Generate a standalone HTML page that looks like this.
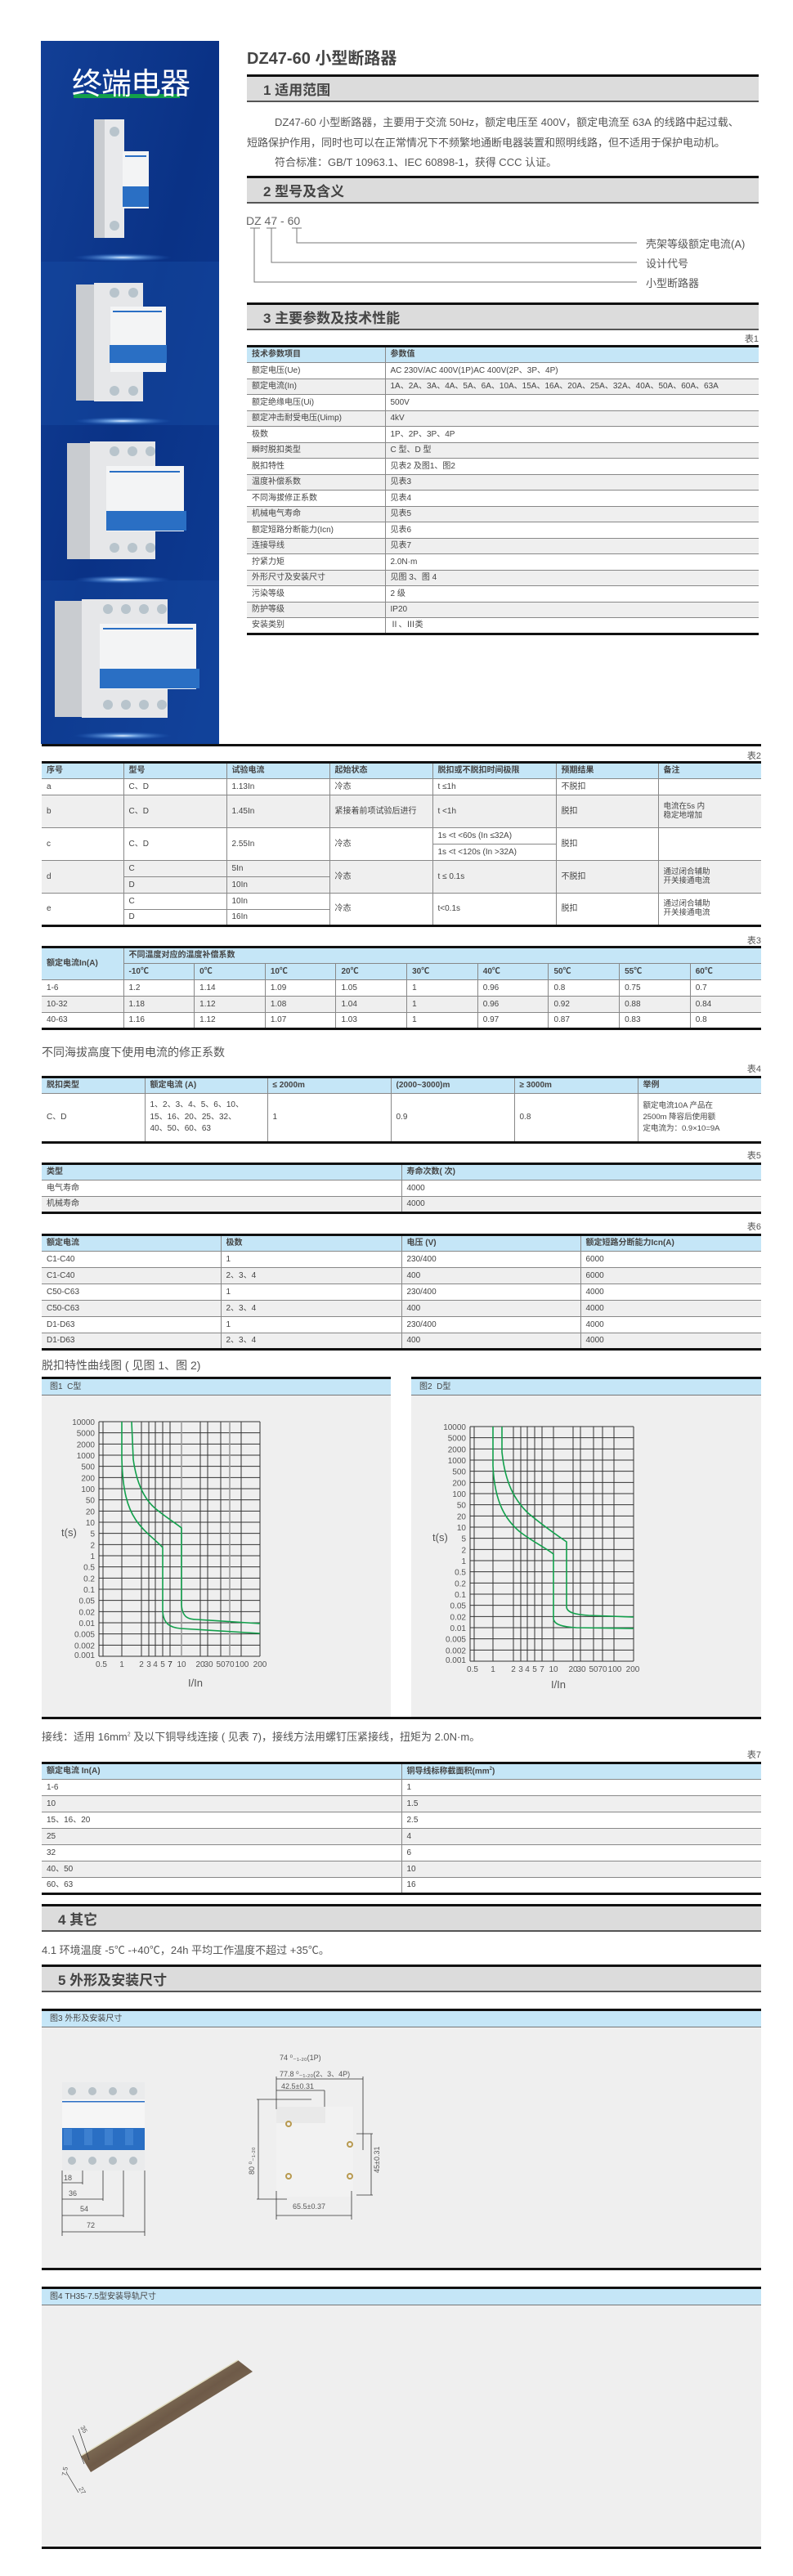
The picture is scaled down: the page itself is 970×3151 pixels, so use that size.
<!DOCTYPE html>
<html><head><meta charset="utf-8">
<style>
*{margin:0;padding:0;box-sizing:border-box}
body{width:970px;height:3151px;position:relative;background:#fff;font-family:"Liberation Sans","Noto Sans CJK SC",sans-serif;color:#555;overflow:hidden}
.a{position:absolute;white-space:nowrap}
.sec{position:absolute;height:34px;background:#dcdcdc;border-top:3px solid #111;border-bottom:2px solid #555;font-weight:bold;font-size:17px;color:#444;padding-left:20px;display:flex;align-items:center}
.tn{position:absolute;right:39px;font-size:11px;color:#555}
table{position:absolute;border-collapse:collapse;table-layout:fixed;font-size:10px;color:#444;border-top:3px solid #111;border-bottom:3px solid #111}
td,th{border-bottom:1px solid #888;border-left:1px solid #888;padding-left:6px;text-align:left;vertical-align:middle;overflow:hidden;white-space:nowrap;line-height:1.15}
td:first-child,th:first-child{border-left:none}
th{background:#c5e6f7;font-weight:bold;color:#444}
tr.g td{background:#efefef}
.box{position:absolute;background:#efefef;border-top:3px solid #111}
.bh{height:20px;background:#c5e6f7;border-bottom:1px solid #777;font-size:10px;padding-left:10px;line-height:20px;color:#444}
p.t{position:absolute;font-size:13px;color:#555;white-space:nowrap}
</style></head><body>

<!-- left panel -->
<svg class="a" style="left:50px;top:50px" width="218" height="860" viewBox="0 0 218 860">
<defs>
<linearGradient id="bg" x1="0" y1="0" x2="1" y2="1"><stop offset="0" stop-color="#123f96"/><stop offset="0.5" stop-color="#0a3286"/><stop offset="1" stop-color="#0e3c94"/></linearGradient>
<radialGradient id="gl"><stop offset="0" stop-color="#e8f4ff"/><stop offset="0.3" stop-color="#7fb4f0" stop-opacity="0.8"/><stop offset="1" stop-color="#2060c0" stop-opacity="0"/></radialGradient>
</defs>
<rect width="218" height="860" fill="url(#bg)"/>
<rect x="0" y="270" width="218" height="200" fill="#1a54ad" opacity="0.35"/>
<rect x="0" y="660" width="218" height="200" fill="#1a54ad" opacity="0.3"/>
<ellipse cx="100" cy="265" rx="60" ry="5" fill="url(#gl)"/>
<ellipse cx="100" cy="465" rx="60" ry="5" fill="url(#gl)"/>
<ellipse cx="100" cy="659" rx="60" ry="5" fill="url(#gl)"/>
<ellipse cx="100" cy="850" rx="60" ry="5" fill="url(#gl)"/>
<rect x="40" y="65" width="130" height="5" fill="#13a04a"/>
<g><rect x="65" y="96" width="18" height="145" fill="#c9ccd0"/><rect x="78" y="96" width="24" height="145" fill="#e8e9eb"/><rect x="100" y="135" width="32" height="70" fill="#f3f4f5"/><rect x="100" y="178" width="32" height="25" fill="#2a6fc4"/><circle cx="90" cy="111" r="6" fill="#b8c4cc"/><circle cx="90" cy="226" r="6" fill="#b8c4cc"/><rect x="103" y="140" width="26" height="2" fill="#2a6fc4"/></g>
<g><rect x="43" y="298" width="28" height="142" fill="#c9ccd0"/><rect x="65" y="296" width="60" height="145" fill="#e6e7e9"/><rect x="85" y="325" width="68" height="80" fill="#f3f4f5"/><rect x="84" y="372" width="70" height="22" fill="#2a6fc4"/><rect x="88" y="330" width="60" height="2" fill="#2a6fc4"/><circle cx="90" cy="308" r="6" fill="#b8c4cc"/><circle cx="113" cy="308" r="6" fill="#b8c4cc"/><circle cx="90" cy="428" r="6" fill="#b8c4cc"/><circle cx="113" cy="428" r="6" fill="#b8c4cc"/></g>
<g><rect x="32" y="492" width="36" height="142" fill="#c9ccd0"/><rect x="60" y="490" width="80" height="144" fill="#e6e7e9"/><rect x="80" y="520" width="95" height="80" fill="#f3f4f5"/><rect x="80" y="575" width="98" height="24" fill="#2a6fc4"/><rect x="84" y="526" width="86" height="2" fill="#2a6fc4"/><circle cx="90" cy="502" r="6" fill="#b8c4cc"/><circle cx="112" cy="502" r="6" fill="#b8c4cc"/><circle cx="134" cy="502" r="6" fill="#b8c4cc"/><circle cx="90" cy="620" r="6" fill="#b8c4cc"/><circle cx="112" cy="620" r="6" fill="#b8c4cc"/><circle cx="134" cy="620" r="6" fill="#b8c4cc"/></g>
<g><rect x="17" y="685" width="40" height="142" fill="#c9ccd0"/><rect x="50" y="683" width="105" height="145" fill="#e6e7e9"/><rect x="72" y="713" width="118" height="80" fill="#f3f4f5"/><rect x="72" y="768" width="122" height="24" fill="#2a6fc4"/><rect x="76" y="718" width="110" height="2" fill="#2a6fc4"/><circle cx="82" cy="695" r="6" fill="#b8c4cc"/><circle cx="104" cy="695" r="6" fill="#b8c4cc"/><circle cx="126" cy="695" r="6" fill="#b8c4cc"/><circle cx="148" cy="695" r="6" fill="#b8c4cc"/><circle cx="82" cy="812" r="6" fill="#b8c4cc"/><circle cx="104" cy="812" r="6" fill="#b8c4cc"/><circle cx="126" cy="812" r="6" fill="#b8c4cc"/><circle cx="148" cy="812" r="6" fill="#b8c4cc"/></g>
</svg>
<div class="a" style="left:88px;top:72px;font-size:37px;color:#fff;letter-spacing:-1px">终端电器</div>

<div class="a" style="left:302px;top:55px;font-size:20px;font-weight:bold;color:#444">DZ47-60 小型断路器</div>

<div class="sec" style="left:302px;top:91px;width:626px">1 适用范围</div>
<p class="t" style="left:336px;top:139px">DZ47-60 小型断路器，主要用于交流 50Hz，额定电压至 400V，额定电流至 63A 的线路中起过载、</p>
<p class="t" style="left:302px;top:164px">短路保护作用，同时也可以在正常情况下不频繁地通断电器装置和照明线路，但不适用于保护电动机。</p>
<p class="t" style="left:336px;top:188px">符合标准：GB/T 10963.1、IEC 60898-1，获得 CCC 认证。</p>
<div class="sec" style="left:302px;top:215px;width:626px">2 型号及含义</div>

<div class="a" style="left:301px;top:262px;font-size:14px;color:#666">DZ 47 - 60</div>
<svg class="a" style="left:300px;top:276px" width="500" height="75">
<g stroke="#777" stroke-width="1" fill="none">
<path d="M6,3H18M26,3H38M57,3H69"/>
<path d="M11,3V69H479M32,3V45H479M63,3V21H479"/>
</g></svg>
<div class="a" style="left:790px;top:288px;font-size:13px;color:#555">壳架等级额定电流(A)</div>
<div class="a" style="left:790px;top:312px;font-size:13px;color:#555">设计代号</div>
<div class="a" style="left:790px;top:336px;font-size:13px;color:#555">小型断路器</div>

<div class="sec" style="left:302px;top:370px;width:626px">3 主要参数及技术性能</div>
<div class="tn" style="top:406px;right:42px">表1</div>
<table style="left:302px;top:422px;width:626px">
<colgroup><col style="width:169px"><col></colgroup>
<tr style="height:20px"><th>技术参数项目</th><th>参数值</th></tr>
<tr style="height:19.5px"><td>额定电压(Ue)</td><td>AC 230V/AC 400V(1P)AC 400V(2P、3P、4P)</td></tr>
<tr class="g" style="height:19.5px"><td>额定电流(In)</td><td>1A、2A、3A、4A、5A、6A、10A、15A、16A、20A、25A、32A、40A、50A、60A、63A</td></tr>
<tr style="height:19.5px"><td>额定绝缘电压(Ui)</td><td>500V</td></tr>
<tr class="g" style="height:19.5px"><td>额定冲击耐受电压(Uimp)</td><td>4kV</td></tr>
<tr style="height:19.5px"><td>极数</td><td>1P、2P、3P、4P</td></tr>
<tr class="g" style="height:19.5px"><td>瞬时脱扣类型</td><td>C 型、D 型</td></tr>
<tr style="height:19.5px"><td>脱扣特性</td><td>见表2 及图1、图2</td></tr>
<tr class="g" style="height:19.5px"><td>温度补偿系数</td><td>见表3</td></tr>
<tr style="height:19.5px"><td>不同海拔修正系数</td><td>见表4</td></tr>
<tr class="g" style="height:19.5px"><td>机械电气寿命</td><td>见表5</td></tr>
<tr style="height:19.5px"><td>额定短路分断能力(Icn)</td><td>见表6</td></tr>
<tr class="g" style="height:19.5px"><td>连接导线</td><td>见表7</td></tr>
<tr style="height:19.5px"><td>拧紧力矩</td><td>2.0N·m</td></tr>
<tr class="g" style="height:19.5px"><td>外形尺寸及安装尺寸</td><td>见图 3、图 4</td></tr>
<tr style="height:19.5px"><td>污染等级</td><td>2 级</td></tr>
<tr class="g" style="height:19.5px"><td>防护等级</td><td>IP20</td></tr>
<tr style="height:19.5px"><td>安装类别</td><td>Ⅱ、Ⅲ类</td></tr>
</table>

<div class="a" style="left:51px;top:910px;width:880px;height:3px;background:#111"></div>
<div class="tn" style="top:916px">表2</div>
<table style="left:51px;top:931px;width:880px">
<colgroup><col style="width:100px"><col style="width:126px"><col style="width:126px"><col style="width:126px"><col style="width:151px"><col style="width:125px"><col></colgroup>
<tr style="height:20px"><th>序号</th><th>型号</th><th>试验电流</th><th>起始状态</th><th>脱扣或不脱扣时间极限</th><th>预期结果</th><th>备注</th></tr>
<tr style="height:20px"><td>a</td><td>C、D</td><td>1.13In</td><td>冷态</td><td>t ≤1h</td><td>不脱扣</td><td></td></tr>
<tr class="g" style="height:40px"><td>b</td><td>C、D</td><td>1.45In</td><td>紧接着前项试验后进行</td><td>t &lt;1h</td><td>脱扣</td><td style="font-size:9.5px">电流在5s 内<br>稳定地增加</td></tr>
<tr style="height:20px"><td rowspan="2">c</td><td rowspan="2">C、D</td><td rowspan="2">2.55In</td><td rowspan="2">冷态</td><td>1s &lt;t &lt;60s (In ≤32A)</td><td rowspan="2">脱扣</td><td rowspan="2"></td></tr>
<tr style="height:20px"><td style="border-left:1px solid #888">1s &lt;t &lt;120s (In &gt;32A)</td></tr>
<tr class="g" style="height:20px"><td rowspan="2">d</td><td>C</td><td>5In</td><td rowspan="2">冷态</td><td rowspan="2">t ≤ 0.1s</td><td rowspan="2">不脱扣</td><td rowspan="2" style="font-size:9.5px">通过闭合辅助<br>开关接通电流</td></tr>
<tr class="g" style="height:20px"><td style="border-left:1px solid #888">D</td><td>10In</td></tr>
<tr style="height:20px"><td rowspan="2">e</td><td>C</td><td>10In</td><td rowspan="2">冷态</td><td rowspan="2">t&lt;0.1s</td><td rowspan="2">脱扣</td><td rowspan="2" style="font-size:9.5px">通过闭合辅助<br>开关接通电流</td></tr>
<tr style="height:20px"><td style="border-left:1px solid #888">D</td><td>16In</td></tr>
</table>

<div class="tn" style="top:1142px">表3</div>
<table style="left:51px;top:1157px;width:880px">
<colgroup><col style="width:100px"><col span="9"></colgroup>
<tr style="height:20px"><th rowspan="2">额定电流In(A)</th><th colspan="9" style="border-left:1px solid #888">不同温度对应的温度补偿系数</th></tr>
<tr style="height:20px"><th style="border-left:1px solid #888">-10℃</th><th>0℃</th><th>10℃</th><th>20℃</th><th>30℃</th><th>40℃</th><th>50℃</th><th>55℃</th><th>60℃</th></tr>
<tr style="height:20px"><td>1-6</td><td>1.2</td><td>1.14</td><td>1.09</td><td>1.05</td><td>1</td><td>0.96</td><td>0.8</td><td>0.75</td><td>0.7</td></tr>
<tr class="g" style="height:20px"><td>10-32</td><td>1.18</td><td>1.12</td><td>1.08</td><td>1.04</td><td>1</td><td>0.96</td><td>0.92</td><td>0.88</td><td>0.84</td></tr>
<tr style="height:20px"><td>40-63</td><td>1.16</td><td>1.12</td><td>1.07</td><td>1.03</td><td>1</td><td>0.97</td><td>0.87</td><td>0.83</td><td>0.8</td></tr>
</table>

<p class="t" style="left:51px;top:1277px;font-size:14px">不同海拔高度下使用电流的修正系数</p>
<div class="tn" style="top:1299px">表4</div>
<table style="left:51px;top:1316px;width:880px">
<colgroup><col style="width:126px"><col style="width:150px"><col style="width:151px"><col style="width:151px"><col style="width:151px"><col></colgroup>
<tr style="height:20px"><th>脱扣类型</th><th>额定电流 (A)</th><th>≤ 2000m</th><th>(2000~3000)m</th><th>≥ 3000m</th><th>举例</th></tr>
<tr style="height:60px"><td>C、D</td><td style="line-height:1.45">1、2、3、4、5、6、10、<br>15、16、20、25、32、<br>40、50、60、63</td><td>1</td><td>0.9</td><td>0.8</td><td style="font-size:9.5px;line-height:1.45">额定电流10A 产品在<br>2500m 降容后使用额<br>定电流为：0.9×10=9A</td></tr>
</table>

<div class="tn" style="top:1405px">表5</div>
<table style="left:51px;top:1422px;width:880px">
<colgroup><col style="width:440px"><col></colgroup>
<tr style="height:20px"><th>类型</th><th>寿命次数( 次)</th></tr>
<tr style="height:20px"><td>电气寿命</td><td>4000</td></tr>
<tr class="g" style="height:20px"><td>机械寿命</td><td>4000</td></tr>
</table>

<div class="tn" style="top:1492px">表6</div>
<table style="left:51px;top:1509px;width:880px">
<colgroup><col style="width:219px"><col style="width:221px"><col style="width:219px"><col></colgroup>
<tr style="height:20px"><th>额定电流</th><th>极数</th><th>电压 (V)</th><th>额定短路分断能力Icn(A)</th></tr>
<tr style="height:20px"><td>C1-C40</td><td>1</td><td>230/400</td><td>6000</td></tr>
<tr class="g" style="height:20px"><td>C1-C40</td><td>2、3、4</td><td>400</td><td>6000</td></tr>
<tr style="height:20px"><td>C50-C63</td><td>1</td><td>230/400</td><td>4000</td></tr>
<tr class="g" style="height:20px"><td>C50-C63</td><td>2、3、4</td><td>400</td><td>4000</td></tr>
<tr style="height:20px"><td>D1-D63</td><td>1</td><td>230/400</td><td>4000</td></tr>
<tr class="g" style="height:20px"><td>D1-D63</td><td>2、3、4</td><td>400</td><td>4000</td></tr>
</table>

<p class="t" style="left:51px;top:1660px;font-size:14px">脱扣特性曲线图 ( 见图 1、图 2)</p>
<div class="box" style="left:51px;top:1684px;width:427px;height:417px"><div class="bh">图1&nbsp; C型</div></div>
<div class="box" style="left:503px;top:1684px;width:428px;height:417px"><div class="bh">图2&nbsp; D型</div></div>
<div class="a" style="left:51px;top:2100px;width:880px;height:3px;background:#111"></div>

<svg class="a" style="left:61px;top:1729px" width="270" height="345" font-family="Liberation Sans, sans-serif" font-size="10" fill="#555">
<g transform="translate(60,10)">
<g stroke="#333" stroke-width="1">
<path d="M0,0H197M0,13.67H197M0,27.33H197M0,41H197M0,54.67H197M0,68.33H197M0,82H197M0,95.67H197M0,109.33H197M0,123H197M0,136.67H197M0,150.33H197M0,164H197M0,177.67H197M0,191.33H197M0,205H197M0,218.67H197M0,232.33H197M0,246H197M0,259.67H197M0,273.33H197M0,287H197"/>
<path d="M0,0V287M5,0V287M28,0V287M52,0V287M61,0V287M69,0V287M78,0V287M87,0V287M124,0V287M133,0V287M149,0V287M174,0V287M197,0V287"/>
</g>
<g stroke="#999" stroke-width="1.5"><path d="M101,0V287M160,0V287"/></g>
<g fill="none" stroke="#12a04c" stroke-width="1.6">
<path d="M28,0 L28,45 C29,85 35,105 45,120 C55,135 70,145 78,154 L78,232 C79,248 88,252 100,253 L197,259"/>
<path d="M40,0 L42,46 C46,75 55,95 70,107 C82,117 95,125 101,130 L101,224 C102,240 110,242 120,242 L197,247"/>
</g>
<g text-anchor="end">
<text x="-5" y="4">10000</text><text x="-5" y="17.7">5000</text><text x="-5" y="31.3">2000</text><text x="-5" y="45">1000</text><text x="-5" y="58.7">500</text><text x="-5" y="72.3">200</text><text x="-5" y="86">100</text><text x="-5" y="99.7">50</text><text x="-5" y="113.3">20</text><text x="-5" y="127">10</text><text x="-5" y="140.7">5</text><text x="-5" y="154.3">2</text><text x="-5" y="168">1</text><text x="-5" y="181.7">0.5</text><text x="-5" y="195.3">0.2</text><text x="-5" y="209">0.1</text><text x="-5" y="222.7">0.05</text><text x="-5" y="236.3">0.02</text><text x="-5" y="250">0.01</text><text x="-5" y="263.7">0.005</text><text x="-5" y="277.3">0.002</text><text x="-5" y="289">0.001</text>
</g>
<text x="-46" y="140" font-size="13">t(s)</text>
<g text-anchor="middle">
<text x="3" y="300">0.5</text><text x="28" y="300">1</text><text x="52" y="300">2</text><text x="61" y="300">3</text><text x="69" y="300">4</text><text x="78" y="300">5</text><text x="87" y="300" fill="#222">7</text><text x="101" y="300">10</text><text x="124" y="300">20</text><text x="134" y="300">30</text><text x="149" y="300">50</text><text x="160" y="300">70</text><text x="175" y="300">100</text><text x="197" y="300">200</text>
</g>
<text x="118" y="324" font-size="13" text-anchor="middle">I/In</text>
</g></svg>

<svg class="a" style="left:515px;top:1735px" width="275" height="345" font-family="Liberation Sans, sans-serif" font-size="10" fill="#555">
<g transform="translate(60,10)">
<g stroke="#333" stroke-width="1">
<path d="M0,0H200M0,13.67H200M0,27.33H200M0,41H200M0,54.67H200M0,68.33H200M0,82H200M0,95.67H200M0,109.33H200M0,123H200M0,136.67H200M0,150.33H200M0,164H200M0,177.67H200M0,191.33H200M0,205H200M0,218.67H200M0,232.33H200M0,246H200M0,259.67H200M0,273.33H200M0,287H200"/>
<path d="M0,0V287M5,0V287M28,0V287M53,0V287M62,0V287M70,0V287M79,0V287M88,0V287M102,0V287M126,0V287M135,0V287M151,0V287M162,0V287M176,0V287M200,0V287"/>
</g>
<g fill="none" stroke="#12a04c" stroke-width="1.6">
<path d="M28,0 L28,48 C30,95 45,115 60,128 C75,140 92,148 102,156 L102,235 C103,243 115,245 130,246 L200,247"/>
<path d="M39,0 L39,31 C43,70 55,90 70,105 C90,122 105,132 118,141 L118,221 C119,228 130,230 145,231 L200,233"/>
</g>
<g text-anchor="end">
<text x="-5" y="4">10000</text><text x="-5" y="17.7">5000</text><text x="-5" y="31.3">2000</text><text x="-5" y="45">1000</text><text x="-5" y="58.7">500</text><text x="-5" y="72.3">200</text><text x="-5" y="86">100</text><text x="-5" y="99.7">50</text><text x="-5" y="113.3">20</text><text x="-5" y="127">10</text><text x="-5" y="140.7">5</text><text x="-5" y="154.3">2</text><text x="-5" y="168">1</text><text x="-5" y="181.7">0.5</text><text x="-5" y="195.3">0.2</text><text x="-5" y="209">0.1</text><text x="-5" y="222.7">0.05</text><text x="-5" y="236.3">0.02</text><text x="-5" y="250">0.01</text><text x="-5" y="263.7">0.005</text><text x="-5" y="277.3">0.002</text><text x="-5" y="289">0.001</text>
</g>
<text x="-46" y="140" font-size="13">t(s)</text>
<g text-anchor="middle">
<text x="3" y="300">0.5</text><text x="28" y="300">1</text><text x="53" y="300">2</text><text x="62" y="300">3</text><text x="70" y="300">4</text><text x="79" y="300">5</text><text x="88" y="300">7</text><text x="102" y="300">10</text><text x="126" y="300">20</text><text x="136" y="300">30</text><text x="151" y="300">50</text><text x="162" y="300">70</text><text x="177" y="300">100</text><text x="199" y="300">200</text>
</g>
<text x="108" y="320" font-size="13" text-anchor="middle">I/In</text>
</g></svg>

<p class="t" style="left:51px;top:2114px">接线：适用 16mm<sup style="font-size:7px">2</sup> 及以下铜导线连接 ( 见表 7)，接线方法用螺钉压紧接线，扭矩为 2.0N·m。</p>
<div class="tn" style="top:2138px">表7</div>
<table style="left:51px;top:2155px;width:880px">
<colgroup><col style="width:440px"><col></colgroup>
<tr style="height:20px"><th>额定电流 In(A)</th><th>铜导线标称截面积(mm<sup style="font-size:6px">2</sup>)</th></tr>
<tr style="height:20px"><td>1-6</td><td>1</td></tr>
<tr class="g" style="height:20px"><td>10</td><td>1.5</td></tr>
<tr style="height:20px"><td>15、16、20</td><td>2.5</td></tr>
<tr class="g" style="height:20px"><td>25</td><td>4</td></tr>
<tr style="height:20px"><td>32</td><td>6</td></tr>
<tr class="g" style="height:20px"><td>40、50</td><td>10</td></tr>
<tr style="height:20px"><td>60、63</td><td>16</td></tr>
</table>

<div class="sec" style="left:51px;top:2329px;width:880px">4 其它</div>
<p class="t" style="left:51px;top:2375px">4.1 环境温度 -5℃ -+40℃，24h 平均工作温度不超过 +35℃。</p>
<div class="sec" style="left:51px;top:2403px;width:880px">5 外形及安装尺寸</div>

<div class="box" style="left:51px;top:2457px;width:880px;height:320px;border-bottom:3px solid #111"><div class="bh">图3 外形及安装尺寸</div></div>
<svg class="a" style="left:51px;top:2480px" width="420" height="295" font-family="Liberation Sans, sans-serif" font-size="9" fill="#555">
<rect x="25" y="67" width="101" height="108" fill="#eaebec"/>
<rect x="25" y="88" width="101" height="35" fill="#f6f6f6"/>
<rect x="25" y="90" width="101" height="1.5" fill="#2a6fc4"/>
<rect x="25" y="123" width="101" height="27" fill="#2a6fc4"/>
<rect x="27" y="124" width="10" height="20" fill="#3d80d0"/><rect x="52" y="124" width="10" height="20" fill="#3d80d0"/><rect x="77" y="124" width="10" height="20" fill="#3d80d0"/><rect x="102" y="124" width="10" height="20" fill="#3d80d0"/>
<g fill="#b8c2c8"><circle cx="37" cy="78" r="5"/><circle cx="62" cy="78" r="5"/><circle cx="87" cy="78" r="5"/><circle cx="112" cy="78" r="5"/><circle cx="37" cy="163" r="5"/><circle cx="62" cy="163" r="5"/><circle cx="87" cy="163" r="5"/><circle cx="112" cy="163" r="5"/></g>
<g stroke="#333" stroke-width="0.8" fill="none">
<path d="M25,175V255M50,175V192M75,175V212M100,175V232M126,175V255"/>
<path d="M25,190H50M25,210H75M25,230H100M25,250H126"/>
</g>
<text x="27" y="187">18</text><text x="33" y="206">36</text><text x="47" y="225">54</text><text x="55" y="245">72</text>
<rect x="287" y="97" width="94" height="110" fill="#f2f2f2"/>
<rect x="287" y="97" width="60" height="20" fill="#e9e9e9"/>
<g fill="none" stroke="#b89a50" stroke-width="2"><circle cx="302" cy="118" r="3"/><circle cx="377" cy="143" r="3"/><circle cx="302" cy="182" r="3"/><circle cx="377" cy="182" r="3"/></g>
<g stroke="#333" stroke-width="0.8" fill="none">
<path d="M287,60V100M287,63H393M393,60V150M287,77H346M346,77V97M263,88H330M265,88V210M263,210H300M385,130H405M385,205H405M403,130V205M287,200V235M379,200V235M287,230H379"/>
</g>
<text x="291" y="40">74 ⁰₋₁.₂₀(1P)</text>
<text x="291" y="60">77.8 ⁰₋₁.₂₀(2、3、4P)</text>
<text x="293" y="75">42.5±0.31</text>
<text x="307" y="222">65.5±0.37</text>
<text transform="translate(260,180) rotate(-90)">80 ⁰₋₁.₂₀</text>
<text transform="translate(413,178) rotate(-90)">45±0.31</text>
</svg>

<div class="box" style="left:51px;top:2797px;width:880px;height:321px;border-bottom:3px solid #111"><div class="bh">图4 TH35-7.5型安装导轨尺寸</div></div>
<svg class="a" style="left:51px;top:2819px" width="300" height="295" font-family="Liberation Sans, sans-serif" font-size="8" fill="#555">
<defs><linearGradient id="rl" x1="0" y1="0" x2="1" y2="1"><stop offset="0" stop-color="#c8c090"/><stop offset="0.5" stop-color="#6e5a48"/><stop offset="1" stop-color="#a89a78"/></linearGradient></defs>
<polygon points="48,185 240,68 258,82 60,205" fill="url(#rl)"/>
<line x1="48" y1="185" x2="240" y2="68" stroke="#e0dcc0" stroke-width="1.5"/>
<g stroke="#333" stroke-width="0.7"><path d="M38,160L52,195M45,152L58,190M30,205L45,230"/></g>
<text transform="translate(47,150) rotate(60)">35</text>
<text transform="translate(30,210) rotate(-80)">7.5</text>
<text transform="translate(45,225) rotate(60)">27</text>
</svg>

</body></html>
